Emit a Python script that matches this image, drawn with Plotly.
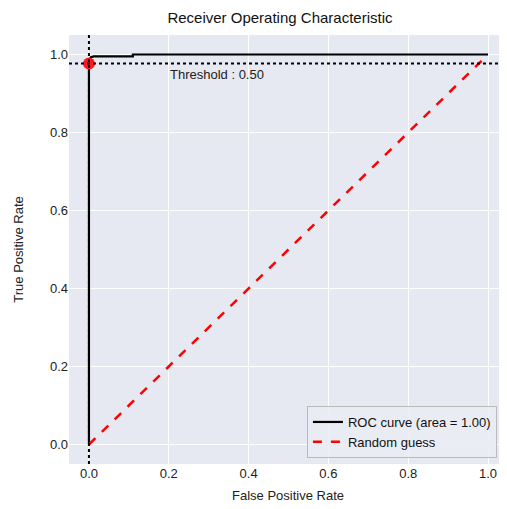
import plotly.graph_objects as go

fpr = [0.0, 0.0, 0.0, 0.005, 0.012, 0.11, 0.11, 1.0]
tpr = [0.0, 0.5, 0.985, 0.993, 0.995, 0.995, 1.0, 1.0]
guess_x = [0.0, 1.0]
guess_y = [0.0, 1.0]
thr_fpr = [0.0]
thr_tpr = [0.977]
tick_vals = [0.0, 0.2, 0.4, 0.6, 0.8, 1.0]
tick_text = ["0.0", "0.2", "0.4", "0.6", "0.8", "1.0"]

font = "Liberation Sans, Arial, sans-serif"
fig = go.Figure()
fig.add_trace(go.Scatter(x=fpr, y=tpr, mode="lines", line=dict(color="black", width=2.2),
                         name="ROC curve (area = 1.00)"))
fig.add_trace(go.Scatter(x=guess_x, y=guess_y, mode="lines",
                         line=dict(color="#ff0000", width=2.5, dash="dash"), name="Random guess"))
fig.add_trace(go.Scatter(x=thr_fpr, y=thr_tpr, mode="markers", marker=dict(color="#ff1a1a", size=12),
                         showlegend=False))
fig.add_vline(x=thr_fpr[0], line=dict(color="black", width=2, dash="dot"))
fig.add_hline(y=thr_tpr[0], line=dict(color="black", width=2, dash="dot"))
fig.add_annotation(x=0.198, y=0.949, text="Threshold : 0.50", showarrow=False, xanchor="left",
                   font=dict(size=13, color="#222"))

fig.update_layout(
    width=499, height=501,
    margin=dict(l=61, r=0, t=27, b=45),
    paper_bgcolor="white", plot_bgcolor="#e6e8f2",
    font=dict(family=font, size=13, color="#222"),
    title=dict(text="Receiver Operating Characteristic", x=0.545, xanchor="center",
               y=0.98, yanchor="middle", font=dict(size=15, color="#111")),
    xaxis=dict(range=[-0.05, 1.0476], tickvals=tick_vals, ticktext=tick_text, showgrid=True,
               gridcolor="white", gridwidth=1, zeroline=False,
               title=dict(text="False Positive Rate", standoff=10, font=dict(size=13))),
    yaxis=dict(range=[-0.05, 1.05], tickvals=tick_vals, ticktext=tick_text, showgrid=True,
               gridcolor="white", gridwidth=1, zeroline=False,
               title=dict(text="True Positive Rate", standoff=23, font=dict(size=13))),
    legend=dict(x=0.977, y=0.014, xanchor="right", yanchor="bottom", bgcolor="rgba(234,236,244,0.9)",
                bordercolor="#bbbbbb", borderwidth=1, font=dict(size=13, color="#111")),
)
fig.write_html("out.html")
